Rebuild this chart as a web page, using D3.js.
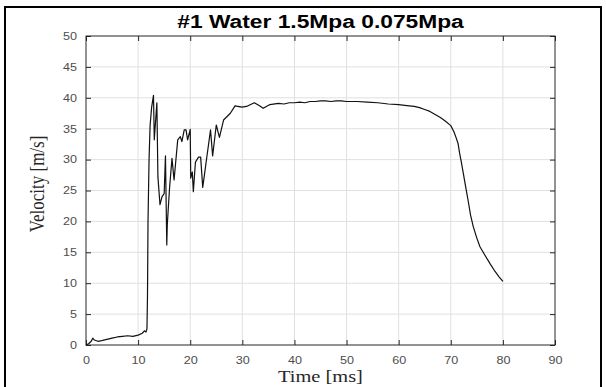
<!DOCTYPE html>
<html>
<head>
<meta charset="utf-8">
<script src="https://cdn.jsdelivr.net/npm/d3@7"></script>
<style>
  body { margin: 0; background: #fff; }
  svg { display: block; }
</style>
</head>
<body>
<svg id="chart" width="606" height="387"></svg>
<script>
// ## data
var chartTitle = "#1 Water 1.5Mpa 0.075Mpa";
var xTicks = [0, 10, 20, 30, 40, 50, 60, 70, 80, 90];
var yTicks = [0, 5, 10, 15, 20, 25, 30, 35, 40, 45, 50];
var timeMs = [0, 0.5, 1.0, 1.3, 1.6, 2.3, 3, 4, 5, 6, 7, 8, 9, 10, 10.8, 11.2, 11.5, 11.7,
    11.8, 11.9, 12.1, 12.3, 12.6, 12.95, 13.1, 13.6, 13.8, 14.2, 14.6, 15.0, 15.25, 15.5, 15.6,
    16.05, 16.5, 16.9, 17.6, 18.1, 18.4, 18.85, 19.2, 19.5, 20.0, 20.1, 20.4, 20.6, 21.0, 21.6,
    22.0, 22.4, 23.2, 23.9, 24.3, 25.0, 25.6, 26.4, 27.7, 28.6, 29.9, 30.8, 32.3, 33.3, 34.0,
    35.3, 36.9, 38, 39, 40, 41, 42, 43, 44, 45, 46, 47, 48, 49, 50, 52, 54, 56, 58, 60, 62, 63,
    64, 65, 66, 67, 68, 69, 70, 70.6, 71, 71.4, 71.7, 72, 72.4, 72.9, 73.3, 73.8, 74.3, 75,
    75.6, 76.5, 77.5, 78.5, 79.3, 80];
var velocity = [0, 0.2, 0.6, 1.1, 0.8, 0.6, 0.7, 0.9, 1.1, 1.3, 1.4, 1.5, 1.4, 1.6, 1.9, 2.3, 2.1, 2.6,
    8, 20, 30, 35.5, 38.5, 40.4, 33.2, 39.2, 27.2, 22.7, 24, 24.5, 30.6, 16.2, 19.5,
    25.6, 30.2, 26.7, 33.2, 33.7, 32.9, 34.8, 34.8, 33.2, 34.9, 27, 28, 24.8, 29.6, 30.4,
    30.4, 25.5, 30.5, 34.8, 30.6, 35.6, 33.6, 36.4, 37.5, 38.7, 38.5, 38.6, 39.2, 38.7, 38.3,
    38.9, 39.1, 39.0, 39.2, 39.2, 39.3, 39.2, 39.4, 39.4, 39.5, 39.5, 39.4, 39.5, 39.5, 39.4, 39.4, 39.3, 39.2, 39.0, 38.9, 38.7, 38.6,
    38.4, 38.1, 37.8, 37.3, 36.8, 36.2, 35.5, 34.5, 33.6, 32.6, 31, 29.7, 27.8, 25.4, 23.5, 21, 19.2, 17.3,
    15.9, 14.6, 13.2, 11.9, 11, 10.3];

var svg = d3.select("#chart");
var plotLeft = 86, plotRight = 555, plotTop = 36, plotBottom = 345;
var stretch = 1.2; // the saved figure is wider than tall, text looks stretched

var x = d3.scaleLinear().domain([0, 90]).range([plotLeft, plotRight]);
var y = d3.scaleLinear().domain([0, 50]).range([plotBottom, plotTop]);

//## outer figure frame (bottom edge is off the picture)
svg.append("path")
    .attr("d", "M5,390 L5,7 L601,7 L601,390")
    .attr("fill", "none")
    .attr("stroke", "#000")
    .attr("stroke-width", 2);

//## grid
svg.append("g").selectAll("line")
    .data(xTicks.slice(1, -1)).enter().append("line")
    .attr("x1", function (d) { return x(d); }).attr("x2", function (d) { return x(d); })
    .attr("y1", plotTop).attr("y2", plotBottom)
    .attr("stroke", "#e0e0e0").attr("stroke-width", 1);
svg.append("g").selectAll("line")
    .data(yTicks.slice(1, -1)).enter().append("line")
    .attr("y1", function (d) { return y(d); }).attr("y2", function (d) { return y(d); })
    .attr("x1", plotLeft).attr("x2", plotRight)
    .attr("stroke", "#e0e0e0").attr("stroke-width", 1);

//## axes, ticks inside, box on
function styleAxis(g) {
    g.select(".domain").remove();
    g.selectAll("line").attr("stroke", "#262626");
    g.selectAll("text").attr("fill", "#4d4d4d")
        .attr("transform", "scale(" + stretch + ",1)")
        .style("font-family", "'Liberation Sans', Arial, sans-serif")
        .style("font-size", "10.5px");
}
svg.append("g").attr("transform", "translate(0," + plotBottom + ")")
    .call(d3.axisBottom(x).tickValues(xTicks).tickSizeInner(-5).tickSizeOuter(0).tickPadding(11.5))
    .call(styleAxis);
svg.append("g").attr("transform", "translate(" + plotLeft + ",0)")
    .call(d3.axisLeft(y).tickValues(yTicks).tickSizeInner(-5).tickSizeOuter(0).tickPadding(7.5))
    .call(styleAxis);
svg.append("g").attr("transform", "translate(0," + plotTop + ")")
    .call(d3.axisTop(x).tickValues(xTicks).tickSizeInner(-5).tickSizeOuter(0).tickFormat(""))
    .call(styleAxis);
svg.append("g").attr("transform", "translate(" + plotRight + ",0)")
    .call(d3.axisRight(y).tickValues(yTicks).tickSizeInner(-5).tickSizeOuter(0).tickFormat(""))
    .call(styleAxis);
svg.append("rect")
    .attr("x", plotLeft).attr("y", plotTop)
    .attr("width", plotRight - plotLeft).attr("height", plotBottom - plotTop)
    .attr("fill", "none").attr("stroke", "#262626").attr("stroke-width", 1);

//## velocity curve
var points = timeMs.map(function (t, i) { return [t, velocity[i]]; });
var line = d3.line()
    .x(function (d) { return x(d[0]); })
    .y(function (d) { return y(d[1]); });
svg.append("path")
    .datum(points)
    .attr("d", line)
    .attr("fill", "none")
    .attr("stroke", "#111")
    .attr("stroke-width", 1.2)
    .attr("stroke-linejoin", "round");

//## labels
svg.append("text")
    .attr("transform", "translate(" + ((plotLeft + plotRight) / 2) + ",28) scale(" + stretch + ",1)")
    .attr("text-anchor", "middle")
    .style("font-family", "'Liberation Sans', Arial, sans-serif")
    .style("font-weight", "bold").style("font-size", "19px")
    .text(chartTitle);
svg.append("text")
    .attr("transform", "translate(" + ((plotLeft + plotRight) / 2) + ",382) scale(" + stretch + ",1)")
    .attr("text-anchor", "middle")
    .style("font-family", "'Liberation Serif', 'Times New Roman', serif")
    .style("font-size", "17px").attr("fill", "#262626")
    .text("Time [ms]");
svg.append("text")
    .attr("transform", "translate(44,184) scale(" + stretch + ",1) rotate(-90)")
    .attr("text-anchor", "middle")
    .style("font-family", "'Liberation Serif', 'Times New Roman', serif")
    .style("font-size", "17px").attr("fill", "#262626")
    .text("Velocity [m/s]");
</script>
</body>
</html>
